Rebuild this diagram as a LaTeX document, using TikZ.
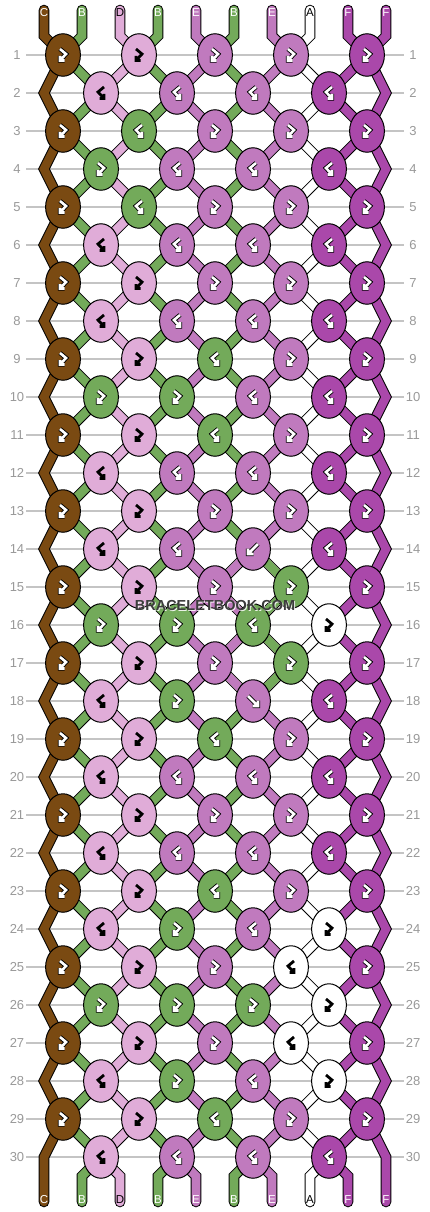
\documentclass[tikz,border=0pt]{standalone}
\usepackage{fontspec}
\setmainfont{Liberation Sans}
\usepackage{tikz}
\usetikzlibrary{shapes.geometric}
\pgfdeclarelayer{grid}
\pgfdeclarelayer{strands}
\pgfsetlayers{grid,strands,main}

\definecolor{cC}{HTML}{7A4A12}
\definecolor{cB}{HTML}{73AA5A}
\definecolor{cD}{HTML}{E0ACD8}
\definecolor{cE}{HTML}{C07ABE}
\definecolor{cA}{HTML}{FFFFFF}
\definecolor{cF}{HTML}{AA48AA}
\definecolor{rowgray}{HTML}{999999}
\definecolor{linegray}{HTML}{C4C4C4}
\definecolor{wmgray}{HTML}{3C3C3C}

\newcommand{\letterof}[1]{\ifcase#1 C\or B\or D\or B\or E\or B\or E\or A\or F\or F\fi}

\tikzset{
  knot/.style={ellipse, draw=black, line width=1pt, minimum width=34.8pt, minimum height=42.5pt, inner sep=0pt},
  outline/.style={line width=10.6pt, black, line cap=round},
  strandfill/.style={line width=8.6pt, line cap=round},
  rownum/.style={text=rowgray, inner sep=0pt, font=\fontsize{13}{13}\selectfont},
  lab/.style={inner sep=0pt, font=\fontsize{11.5}{11.5}\selectfont},
  darkglyph/.style={draw=black, line width=0.9pt, double=white, double distance=2.6pt},
  lightglyph/.style={draw=black, line width=2.8pt},
  glyphC/.style=darkglyph, glyphB/.style=darkglyph, glyphE/.style=darkglyph,
  glyphF/.style=darkglyph, glyphD/.style=lightglyph, glyphA/.style=lightglyph,
  pics/fb/.style={code={\draw[#1] (-3,-6) -- (3,-1) -- (-3,5.5) (-3,1) -- (-3,5.5) -- (1.5,5.5);}},
  pics/bf/.style={code={\draw[#1] (3,-6) -- (-3,-1) -- (3,5.5) (3,1) -- (3,5.5) -- (-1.5,5.5);}},
  pics/fwd/.style={code={\draw[#1] (-5,-5) -- (5,5) (5,-0.5) -- (5,5) -- (-0.5,5);}},
  pics/bwd/.style={code={\draw[#1] (5,-5) -- (-5,5) (-5,-0.5) -- (-5,5) -- (0.5,5);}},
  watermark/.style={inner sep=0pt, font=\fontsize{14.5}{14.5}\selectfont\bfseries}
}

\begin{document}
\begin{tikzpicture}[x=1pt,y=-1pt]
\begin{pgfonlayer}{grid}
  \fill[white] (0,0) rectangle (430,1212);
\end{pgfonlayer}
\useasboundingbox (0,0) rectangle (430,1212);

% rows: guide line and numbers
\begin{pgfonlayer}{grid}
\foreach \r in {1,...,30}{
  \pgfmathsetmacro\y{55+38*(\r-1)}
  \draw[linegray, line width=1.2pt] (26,\y) -- (404,\y);
  \node[rownum] (l\r) at (17,\y) {\r};
  \node[rownum] (r\r) at (413,\y) {\r};
}
\end{pgfonlayer}

% strand labels and end points
\foreach \p in {0,...,9}{
  \pgfmathsetmacro\x{44+38*\p}
  \edef\col{\letterof{\p}}
  \coordinate (top\p) at (\x,10);
  \coordinate (topb\p) at (\x,36);
  \coordinate (botb\p) at (\x,1176);
  \coordinate (bot\p) at (\x,1202);
}

% knots
\foreach \r/\knots in {
  1/{C/fb,D/fb,E/fb,E/fb,F/fb},
  2/{D/bf,E/bf,E/bf,F/bf},
  3/{C/fb,B/bf,E/fb,E/fb,F/fb},
  4/{B/fb,E/bf,E/bf,F/bf},
  5/{C/fb,B/bf,E/fb,E/fb,F/fb},
  6/{D/bf,E/bf,E/bf,F/bf},
  7/{C/fb,D/fb,E/fb,E/fb,F/fb},
  8/{D/bf,E/bf,E/bf,F/bf},
  9/{C/fb,D/fb,B/bf,E/fb,F/fb},
  10/{B/fb,B/fb,E/bf,F/bf},
  11/{C/fb,D/fb,B/bf,E/fb,F/fb},
  12/{D/bf,E/bf,E/bf,F/bf},
  13/{C/fb,D/fb,E/fb,E/fb,F/fb},
  14/{D/bf,E/bf,E/bwd,F/bf},
  15/{C/fb,D/fb,E/fb,B/fb,F/fb},
  16/{B/fb,B/fb,B/bf,A/fb},
  17/{C/fb,D/fb,E/fb,B/fb,F/fb},
  18/{D/bf,B/fb,E/fwd,F/bf},
  19/{C/fb,D/fb,B/bf,E/fb,F/fb},
  20/{D/bf,E/bf,E/bf,F/bf},
  21/{C/fb,D/fb,E/fb,E/fb,F/fb},
  22/{D/bf,E/bf,E/bf,F/bf},
  23/{C/fb,D/fb,B/bf,E/fb,F/fb},
  24/{D/bf,B/fb,E/bf,A/fb},
  25/{C/fb,D/fb,E/fb,A/bf,F/fb},
  26/{B/fb,B/fb,B/fb,A/fb},
  27/{C/fb,D/fb,E/fb,A/bf,F/fb},
  28/{D/bf,B/fb,E/bf,A/fb},
  29/{C/fb,D/fb,B/bf,E/fb,F/fb},
  30/{D/bf,E/bf,E/bf,F/bf}}{
  \pgfmathsetmacro\y{55+38*(\r-1)}
  \pgfmathsetmacro\xo{isodd(\r) ? 63 : 101}
  \foreach \kc/\kt [count=\c] in \knots {
    \node[knot, fill=c\kc] (k\r-\c) at (\xo+76*\c-76,\y) {};
    \edef\tmp{\noexpand\pic at (k\r-\c) {\kt=glyph\kc};}\tmp
  }
  \ifodd\r\else
    \coordinate (k\r-0) at (44,\y);
    \coordinate (k\r-5) at (386,\y);
  \fi
}

% strands under the knots
\begin{pgfonlayer}{strands}
\foreach \p in {0,...,9}{
  \draw[outline] (top\p) -- (topb\p)
    \foreach \r [evaluate=\r as \c using {int(int((\p+1-mod(\r,2))/2)+mod(\r,2))}] in {1,...,30}{ -- (k\r-\c.center)}
    -- (botb\p) -- (bot\p);
}
\foreach \p in {0,...,9}{
  \edef\col{\letterof{\p}}
  \draw[strandfill, c\col] (top\p) -- (topb\p)
    \foreach \r [evaluate=\r as \c using {int(int((\p+1-mod(\r,2))/2)+mod(\r,2))}] in {1,...,30}{ -- (k\r-\c.center)}
    -- (botb\p) -- (bot\p);
}
% rows 14 to 18: the two strands trade places
\draw[strandfill, cE] (k14-3.center) -- (k15-3.center) -- (k16-3.center) -- (k17-3.center) -- (k18-3.center);
\draw[strandfill, cB] (k14-3.center) -- (k15-4.center) -- (k16-3.center) -- (k17-4.center) -- (k18-3.center);
\end{pgfonlayer}

\foreach \p/\t in {0/white,1/white,2/black,3/white,4/white,5/white,6/white,7/black,8/white,9/white}{
  \pgfmathsetmacro\x{44+38*\p}
  \node[lab, text=\t] (lt\p) at (\x,12.5) {\letterof{\p}};
  \node[lab, text=\t] (lb\p) at (\x,1199.5) {\letterof{\p}};
}

\node[watermark, text=white, opacity=0.85] (wms) at (216,607) {BRACELETBOOK.COM};
\node[watermark, text=wmgray] (wm) at (215,606) {BRACELETBOOK.COM};
\end{tikzpicture}
\end{document}
